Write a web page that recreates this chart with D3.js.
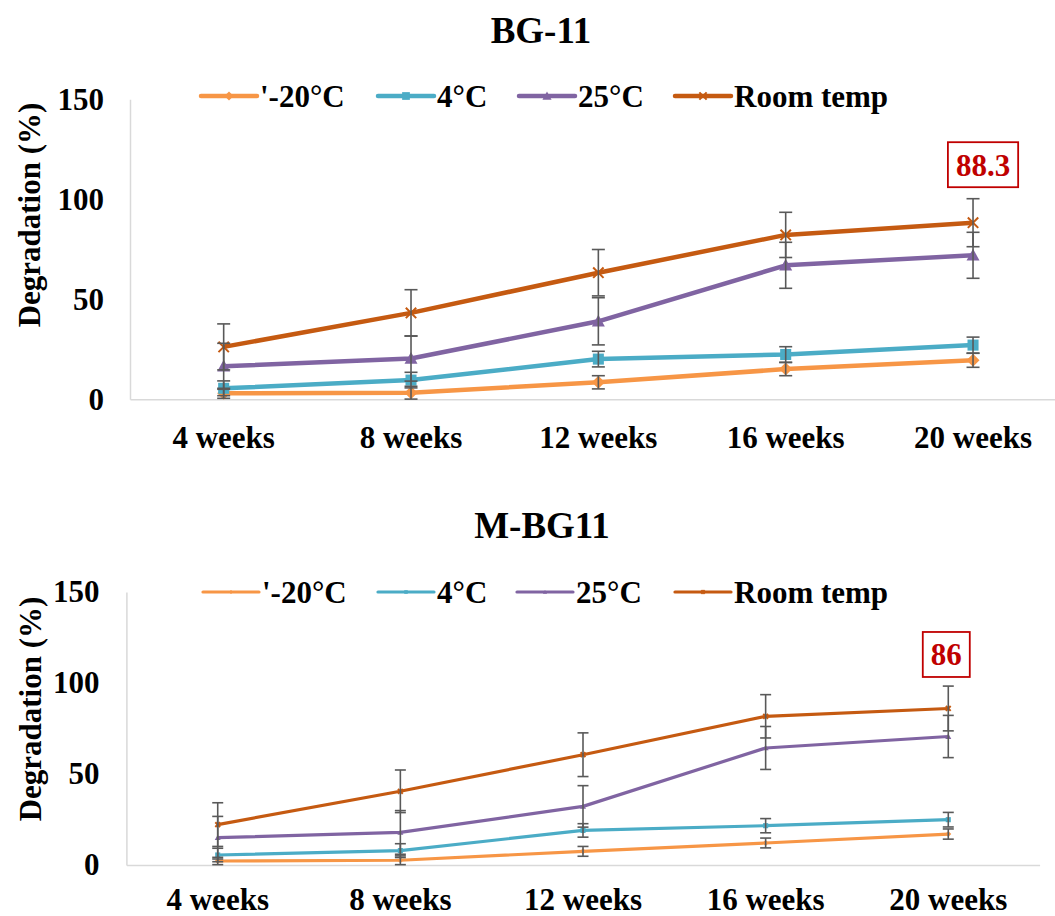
<!DOCTYPE html>
<html>
<head>
<meta charset="utf-8">
<script src="https://cdn.jsdelivr.net/npm/d3@7"></script>
<style>
  body { margin: 0; background: #fff; }
  svg { display: block; }
  text { font-family: "Liberation Serif", "Times New Roman", serif; font-weight: bold; }
</style>
</head>
<body>
<svg id="chart" width="1055" height="916"></svg>
<script>
// ---- data ----
const categories = ["4 weeks", "8 weeks", "12 weeks", "16 weeks", "20 weeks"];
const seriesNames = ["'-20°C", "4°C", "25°C", "Room temp"];
const yTicks = [0, 50, 100, 150];

// BG-11
const bg11_m20 = [3.0, 3.3, 8.5, 15.1, 19.5];
const bg11_4 = [5.5, 9.6, 20.1, 22.4, 27.1];
const bg11_25 = [16.5, 20.4, 39.0, 67.0, 72.0];
const bg11_room = [26.2, 43.2, 63.3, 82.2, 88.3];
const bg11_m20_err = [2.5, 3.2, 3.3, 3.3, 3.5];
const bg11_4_err = [3.7, 3.9, 3.9, 3.9, 4.0];
const bg11_25_err = [11.5, 11.3, 11.8, 11.5, 11.5];
const bg11_room_err = [11.5, 11.6, 11.6, 11.3, 12.0];

// M-BG11
const mbg_m20 = [2.2, 2.6, 7.5, 12.1, 17.0];
const mbg_4 = [5.5, 7.9, 19.0, 21.6, 24.9];
const mbg_25 = [15.0, 17.9, 32.2, 64.3, 70.6];
const mbg_room = [22.2, 40.5, 60.6, 81.7, 86.0];
const mbg_m20_err = [2.0, 2.4, 2.7, 2.7, 2.8];
const mbg_4_err = [3.7, 3.8, 3.7, 3.9, 4.0];
const mbg_25_err = [11.7, 12.0, 11.4, 11.8, 11.6];
const mbg_room_err = [12.0, 11.7, 12.0, 11.9, 12.3];

const colors = ["#F79646", "#4BACC6", "#8064A2", "#C55A11"];
const markerTypes = ["diamond", "square", "triangle", "x"];

const svg = d3.select("#chart");

function drawMarker(g, type, x, y, s, color) {
  if (type === "diamond") {
    g.append("path").attr("d", `M${x},${y - s}L${x + s},${y}L${x},${y + s}L${x - s},${y}Z`).attr("fill", color);
  } else if (type === "square") {
    g.append("rect").attr("x", x - s * 0.85).attr("y", y - s * 0.85).attr("width", s * 1.7).attr("height", s * 1.7).attr("fill", color);
  } else if (type === "triangle") {
    g.append("path").attr("d", `M${x},${y - s}L${x + s},${y + s * 0.8}L${x - s},${y + s * 0.8}Z`).attr("fill", color);
  } else {
    const k = s * 0.8;
    g.append("path").attr("d", `M${x - k},${y - k}L${x + k},${y + k}M${x - k},${y + k}L${x + k},${y - k}`)
      .attr("stroke", color).attr("stroke-width", 2).attr("fill", "none");
  }
}

function drawChart(cfg) {
  const g = svg.append("g");
  const x = d3.scaleBand().domain(categories).range([cfg.left, cfg.right]);
  const y = d3.scaleLinear().domain([0, 150]).range([cfg.bottom, cfg.top]);
  const cx = c => x(c) + x.bandwidth() / 2;

  // title
  g.append("text").attr("x", cfg.titleX).attr("y", cfg.titleY).attr("text-anchor", "middle")
    .style("font-size", "37px").attr("fill", "#000").text(cfg.title);

  // y axis
  const ya = g.append("g").attr("transform", `translate(${cfg.left},0)`)
    .call(d3.axisLeft(y).tickValues(yTicks).tickSize(0).tickSizeOuter(0).tickPadding(cfg.yPad));
  ya.select(".domain").attr("stroke", "#D9D9D9").attr("stroke-width", 1.5);
  ya.selectAll("text").style("font-size", "31px").style("font-family", "Liberation Serif").style("font-weight", "bold").attr("fill", "#000");

  // x axis
  const xa = g.append("g").attr("transform", `translate(0,${cfg.bottom})`)
    .call(d3.axisBottom(x).tickSize(0).tickSizeOuter(0));
  xa.select(".domain").attr("stroke", "#D9D9D9").attr("stroke-width", 1.5);
  xa.selectAll("text").style("font-size", "31px").style("font-family", "Liberation Serif").style("font-weight", "bold")
    .attr("fill", "#000").attr("y", cfg.xLabOff).attr("dy", "0");

  // y axis title
  g.append("text").attr("transform", `translate(${cfg.yTitleX},${cfg.yTitleY}) rotate(-90)`)
    .attr("text-anchor", "middle").style("font-size", "31px").attr("fill", "#000").text("Degradation (%)");

  const lineGen = d3.line().x((d, i) => cx(categories[i])).y(d => y(d));

  // lines
  cfg.series.forEach((vals, si) => {
    g.append("path").datum(vals).attr("d", lineGen).attr("fill", "none")
      .attr("stroke", colors[si]).attr("stroke-width", cfg.lw).attr("stroke-linejoin", "round");
  });
  // markers
  cfg.series.forEach((vals, si) => {
    const mg = g.append("g");
    vals.forEach((v, i) => drawMarker(mg, markerTypes[si], cx(categories[i]), y(v), cfg.ms, colors[si]));
  });
  // error bars
  const eg = g.append("g").attr("stroke", "#595959").attr("stroke-width", 1.6).attr("fill", "none");
  cfg.series.forEach((vals, si) => {
    vals.forEach((v, i) => {
      const e = cfg.errs[si][i];
      const px = cx(categories[i]);
      const y1 = y(Math.max(0, v - e)), y2 = y(v + e);
      eg.append("line").attr("x1", px).attr("x2", px).attr("y1", y1).attr("y2", y2);
      eg.append("line").attr("x1", px - cfg.cap).attr("x2", px + cfg.cap).attr("y1", y1).attr("y2", y1);
      eg.append("line").attr("x1", px - cfg.cap).attr("x2", px + cfg.cap).attr("y1", y2).attr("y2", y2);
    });
  });

  // legend
  const lg = g.append("g");
  cfg.legendX.forEach((lx, si) => {
    lg.append("line").attr("x1", lx).attr("x2", lx + 56).attr("y1", cfg.legendY).attr("y2", cfg.legendY)
      .attr("stroke", colors[si]).attr("stroke-width", cfg.lw).attr("stroke-linecap", "round");
    drawMarker(lg, markerTypes[si], lx + 28, cfg.legendY, cfg.ms * 0.7, colors[si]);
    lg.append("text").attr("x", lx + 59).attr("y", cfg.legendY).attr("dy", "0.34em")
      .style("font-size", "31px").attr("fill", "#000").text(seriesNames[si]);
  });

  // annotation box for last room temp value
  const last = cfg.series[3][4];
  const ax = cx(categories[4]) + cfg.annDx;
  const ay = y(last) - cfg.annDy;
  const t = g.append("text").attr("x", ax).attr("y", ay).attr("dy", "0.35em").attr("text-anchor", "middle")
    .style("font-size", "31px").attr("fill", "#C00000").text(cfg.annText);
  const bb = t.node().getBBox();
  g.append("rect").attr("x", bb.x - 8).attr("y", ay - 22.5).attr("width", bb.width + 16).attr("height", 45)
    .attr("fill", "none").attr("stroke", "#C00000").attr("stroke-width", 1.8);
}

drawChart({
  title: "BG-11", titleX: 541, titleY: 43,
  left: 130, right: 1066.7, top: 99.3, bottom: 399.3,
  yPad: 26, xLabOff: 49, yTitleX: 40, yTitleY: 215,
  series: [bg11_m20, bg11_4, bg11_25, bg11_room],
  errs: [bg11_m20_err, bg11_4_err, bg11_25_err, bg11_room_err],
  lw: 4.5, ms: 6.5, cap: 6.5,
  legendX: [201, 378, 519, 675], legendY: 96,
  annText: "88.3", annDx: 10, annDy: 58
});

drawChart({
  title: "M-BG11", titleX: 542, titleY: 538,
  left: 126.4, right: 1039.6, top: 592, bottom: 865,
  yPad: 27, xLabOff: 45, yTitleX: 41, yTitleY: 709,
  series: [mbg_m20, mbg_4, mbg_25, mbg_room],
  errs: [mbg_m20_err, mbg_4_err, mbg_25_err, mbg_room_err],
  lw: 3.2, ms: 3, cap: 5.5,
  legendX: [203, 378, 517, 675], legendY: 592,
  annText: "86", annDx: -2, annDy: 54
});
</script>
</body>
</html>
